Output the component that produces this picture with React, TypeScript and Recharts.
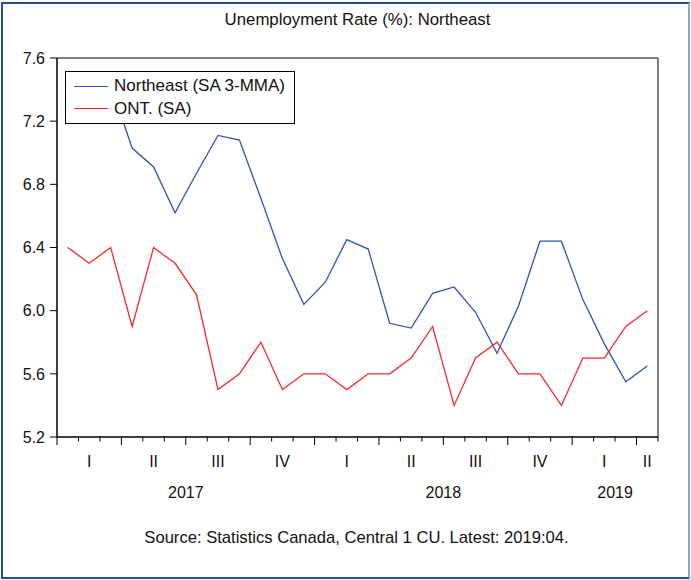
import React from "react";
import {
  LineChart,
  Line,
  XAxis,
  YAxis,
  Legend,
  ReferenceArea,
} from "recharts";

// Jan 2017 .. Apr 2019, monthly
const northeast = [
  7.5, 7.48, 7.43, 7.03, 6.91, 6.62, 6.87, 7.11, 7.08, 6.71, 6.33, 6.04,
  6.18, 6.45, 6.39, 5.92, 5.89, 6.11, 6.15, 5.99, 5.73, 6.03, 6.44, 6.44,
  6.07, 5.79, 5.55, 5.65,
];
const ontario = [
  6.4, 6.3, 6.4, 5.9, 6.4, 6.3, 6.1, 5.5, 5.6, 5.8, 5.5, 5.6,
  5.6, 5.5, 5.6, 5.6, 5.7, 5.9, 5.4, 5.7, 5.8, 5.6, 5.6, 5.4,
  5.7, 5.7, 5.9, 6.0,
];
const quarterLabels = ["I", "II", "III", "IV", "I", "II", "III", "IV", "I", "II"];
const yearLabels = ["2017", "2018", "2019"];
const monthsPerYear = [12, 12, 4];
const yTicks = [5.2, 5.6, 6.0, 6.4, 6.8, 7.2, 7.6];

const BLUE = "#3352ad";
const RED = "#f22a2a";
const FONT = "'Liberation Sans', Arial, sans-serif";

const nMonths = northeast.length;
const data = northeast.map((v, i) => ({ x: i + 0.5, ne: v, ont: ontario[i] }));

const quarterCenters = quarterLabels.map((_, q) => {
  const start = q * 3;
  const end = Math.min(start + 3, nMonths);
  return (start + end) / 2;
});
const yearCenters: number[] = [];
{
  let s = 0;
  monthsPerYear.forEach((m) => {
    yearCenters.push(s + m / 2);
    s += m;
  });
}
const xTicks: number[] = [];
for (let k = 0; k <= nMonths * 2; k++) xTicks.push(k / 2);

const near = (a: number, b: number) => Math.abs(a - b) < 1e-6;

function MonthTick(props: any) {
  const { x, y, payload } = props;
  const v: number = payload.value;
  const parts: React.ReactNode[] = [];
  if (near(v, Math.round(v))) {
    const major = Math.round(v) % 3 === 0;
    parts.push(
      <line key="t" x1={x} x2={x} y1={y} y2={y + (major ? 8 : 4.5)} stroke="#000" strokeWidth={1} />
    );
  }
  const qi = quarterCenters.findIndex((c) => near(c, v));
  if (qi >= 0) {
    parts.push(
      <text key="q" x={x} y={y + 30} textAnchor="middle" fontSize={16} fill="#111" fontFamily={FONT}>
        {quarterLabels[qi]}
      </text>
    );
  }
  const yi = yearCenters.findIndex((c) => near(c, v));
  if (yi >= 0) {
    parts.push(
      <text key="y" x={x} y={y + 61} textAnchor="middle" fontSize={16} fill="#111" fontFamily={FONT}>
        {yearLabels[yi]}
      </text>
    );
  }
  return <g>{parts}</g>;
}

function LegendBox() {
  const rows = [
    { name: "Northeast (SA 3-MMA)", color: BLUE },
    { name: "ONT. (SA)", color: RED },
  ];
  return (
    <div
      style={{
        background: "#fff",
        border: "1px solid #000",
        padding: "3px 9px 3px 8px",
        fontFamily: FONT,
        fontSize: 17,
        color: "#111",
      }}
    >
      {rows.map((r) => (
        <div key={r.name} style={{ display: "flex", alignItems: "center", height: 22.5 }}>
          <span style={{ display: "inline-block", width: 34, height: 0, borderTop: `1.5px solid ${r.color}`, marginRight: 6 }} />
          <span>{r.name}</span>
        </div>
      ))}
    </div>
  );
}

export default function App() {
  return (
    <div style={{ position: "absolute", left: 0, top: 0, width: 691, height: 580, background: "#fff" }}>
      <div
        style={{
          position: "absolute",
          left: 1,
          top: 2,
          width: 685,
          height: 573,
          border: "2px solid #24508f",
          borderRightColor: "#8aa6c8",
        }}
      />
      <div
        style={{
          position: "absolute",
          top: 10,
          left: 0,
          width: 715,
          textAlign: "center",
          fontFamily: FONT,
          fontSize: 16.8,
          color: "#111",
        }}
      >
        Unemployment Rate (%): Northeast
      </div>
      <LineChart
        width={691}
        height={580}
        data={data}
        margin={{ top: 58, right: 33, left: 0, bottom: 43 }}
      >
        <XAxis
          dataKey="x"
          type="number"
          domain={[0, nMonths]}
          ticks={xTicks}
          interval={0}
          tickLine={false}
          tickSize={0}
          tickMargin={0}
          tick={<MonthTick />}
          axisLine={{ stroke: "#000" }}
          height={100}
        />
        <YAxis
          type="number"
          domain={[5.2, 7.6]}
          ticks={yTicks}
          interval={0}
          width={57}
          tickSize={7}
          tickMargin={5}
          tickLine={{ stroke: "#000" }}
          axisLine={{ stroke: "#000" }}
          tickFormatter={(v: number) => v.toFixed(1)}
          tick={{ fill: "#111", fontSize: 16, fontFamily: FONT }}
        />
        <ReferenceArea x1={0} x2={nMonths} y1={5.2} y2={7.6} fill="none" stroke="#000" strokeWidth={1} ifOverflow="visible" />
        <Line dataKey="ne" stroke={BLUE} strokeWidth={1.3} dot={false} isAnimationActive={false} />
        <Line dataKey="ont" stroke={RED} strokeWidth={1.3} dot={false} isAnimationActive={false} />
        <Legend
          layout="vertical"
          align="center"
          verticalAlign="middle"
          content={<LegendBox />}
          wrapperStyle={{ left: 65, top: 71, width: "auto" }}
        />
      </LineChart>
      <div
        style={{
          position: "absolute",
          top: 528,
          left: 0,
          width: 713,
          textAlign: "center",
          fontFamily: FONT,
          fontSize: 16.6,
          color: "#111",
        }}
      >
        Source: Statistics Canada, Central 1 CU. Latest: 2019:04.
      </div>
    </div>
  );
}
